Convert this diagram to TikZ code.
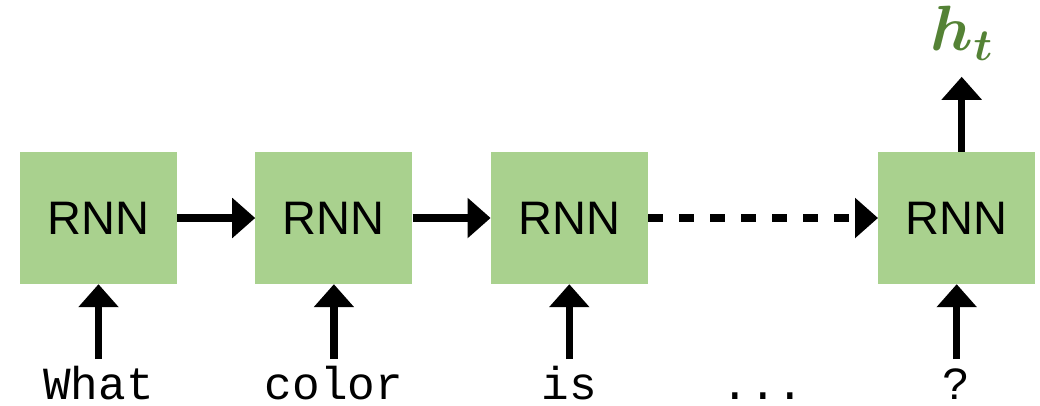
\RequirePackage{fix-cm}
\documentclass[tikz,border=0pt]{standalone}
\usepackage{amsmath,bm}
\usepackage{fontspec}
\setmainfont{Liberation Sans}
\setmonofont{Liberation Mono}
\usetikzlibrary{arrows.meta,positioning,calc}
\definecolor{Cell}{HTML}{A9D18E}
\definecolor{Out}{HTML}{548235}

\begin{document}
\begin{tikzpicture}[x=1pt,y=-1pt,
 node distance=78pt,
 b/.style={fill=Cell,minimum width=157pt,minimum height=132pt,inner sep=0pt,font=\fontsize{47}{50}\selectfont},
 w/.style={font=\ttfamily\fontsize{46}{50}\selectfont,text height=27pt,text depth=0pt,inner xsep=0pt,inner ysep=13pt},
 a/.style={-{Triangle[length=23pt,width=39pt]},line width=7.5pt}
]
\useasboundingbox (0,0) rectangle (1040,406);
% cells
\node[b] (r1) at (98.5,218) {RNN};
\node[b,right=of r1] (r2) {RNN};
\node[b,right=of r2] (r3) {RNN};
\node[b,right=230pt of r3] (r4) {RNN};
% input tokens
\node[w,below=75pt of r1] (w1) {What};
\node[w,below=75pt of r2] (w2) {color};
\node[w,below=75pt of r3] (w3) {is};
\coordinate (gap) at ($(r3.south)!.5!(r4.south)$);
\node[w,below=75pt of gap] (w4) {...};
\node[w,below=75pt of r4] (w5) {?};
% final hidden state
\node[above=75pt of r4,xshift=5pt,text=Out,font=\fontsize{64}{66}\selectfont,text height=44pt,inner xsep=0pt,inner ysep=14pt,text depth=12pt] (h) {$\bm{h}_{\bm{t}}$};
\draw[a] (r1) -- (r2);
\draw[a] (r2) -- (r3);
\draw[a,dash pattern=on 15pt off 16pt] (r3) -- (r4);
\foreach \i/\j in {1/1,2/2,3/3,5/4}
  \draw[a] (w\i) -- (r\j);
\draw[a] (r4.north -| h) -- (h);
\end{tikzpicture}
\end{document}
